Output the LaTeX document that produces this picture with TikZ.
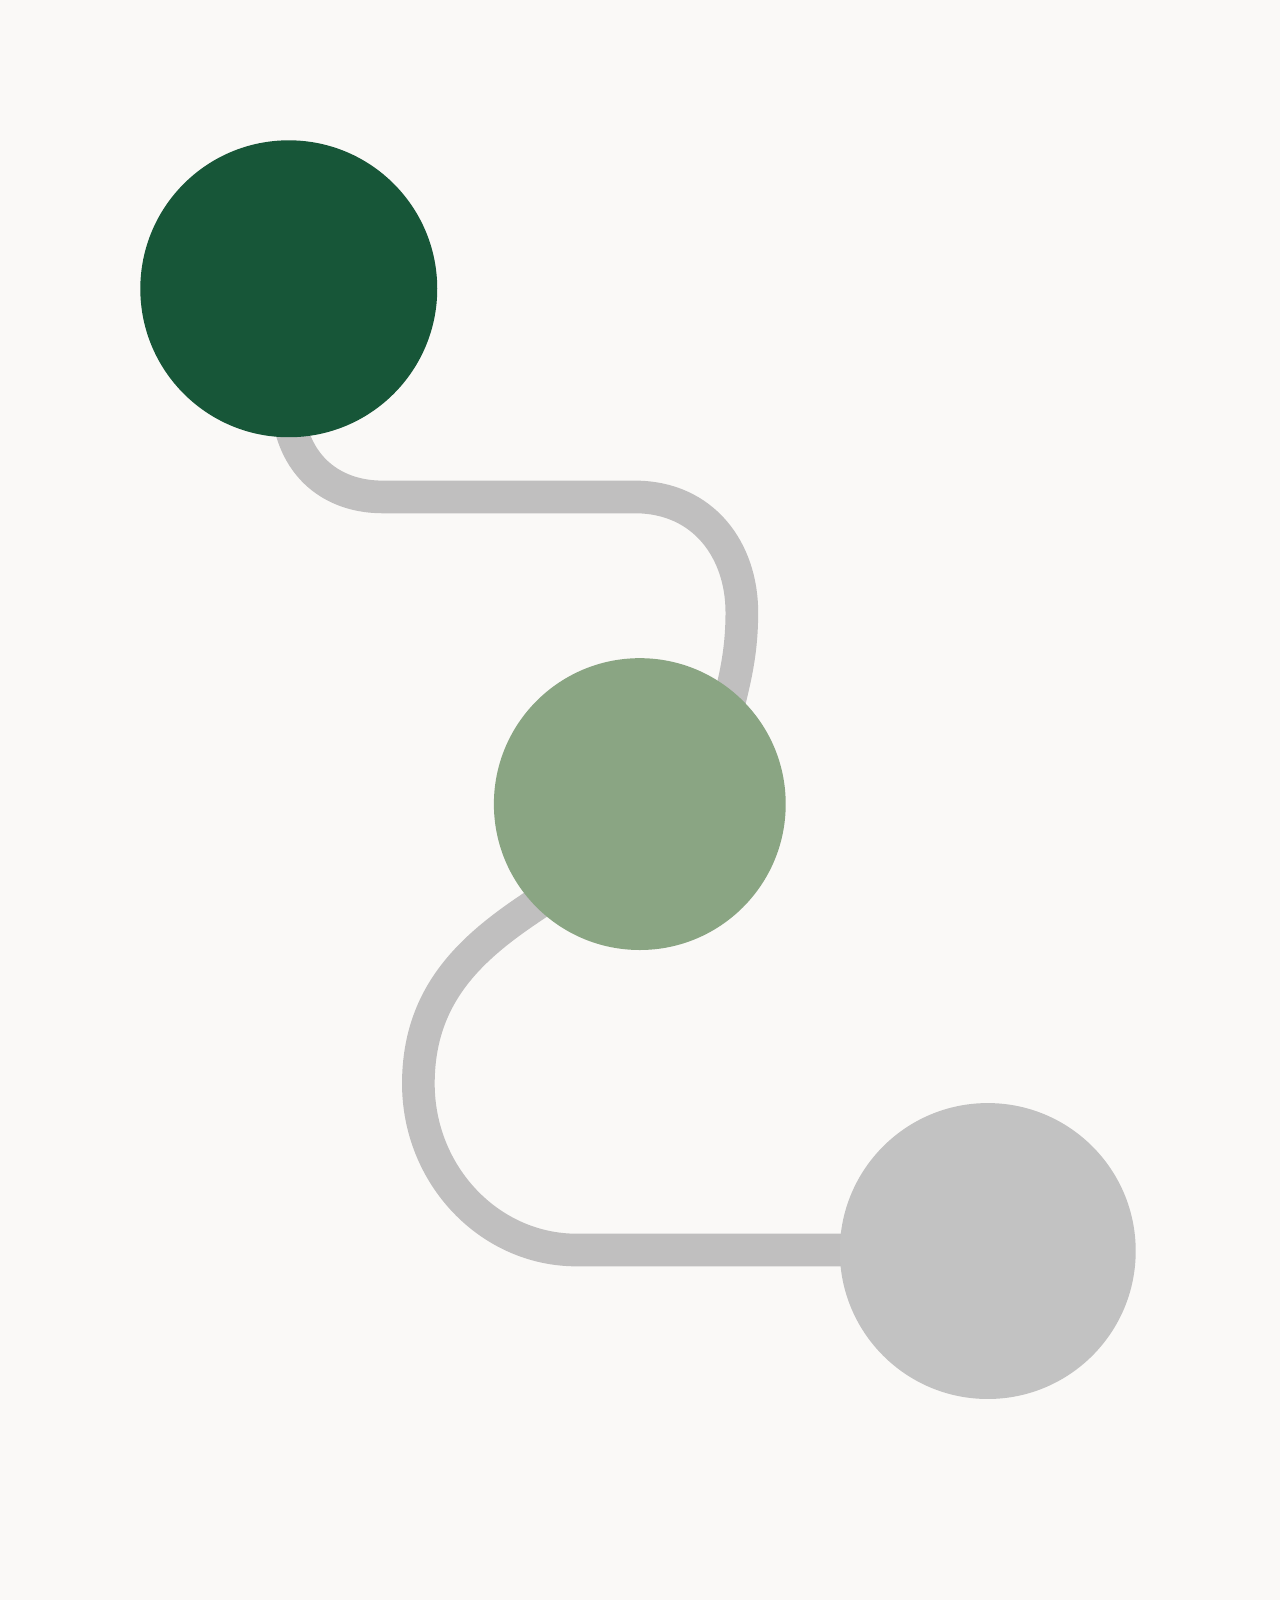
\documentclass[tikz,border=0pt]{standalone}
\usetikzlibrary{calc}
\definecolor{bgc}{HTML}{FAF9F7}
\definecolor{darkg}{HTML}{175638}
\definecolor{midg}{HTML}{8AA583}
\definecolor{greyc}{HTML}{C2C2C2}
\definecolor{linec}{HTML}{C0BFBF}
\tikzset{
  dot/.style={circle, inner sep=0pt, minimum size=#1, draw=none},
  track/.style={draw=linec, line width=32pt, line cap=butt, line join=round}
}
\begin{document}
\begin{tikzpicture}[x=1pt,y=-1pt]
\fill[bgc] (0,0) rectangle (1254,1568);
\useasboundingbox (0,0) rectangle (1254,1568);
\coordinate (c1) at (283,283);
\coordinate (c2) at (627,788);
\coordinate (c3) at (968,1226);
\coordinate (s1) at (283,410);
\coordinate (e1) at (712,700);
\coordinate (s2) at (535,880);
\coordinate (e2) at (850,1225);
\draw[track] (s1) .. controls (292,462) and (330,487) .. (375,487) -- (622,487)
  .. controls (690,487) and (727,540) .. (727,600)
  .. controls (727,645) and (718,672) .. (e1);
\draw[track] (s2) .. controls (470,922) and (410,968) .. (410,1062)
  .. controls (410,1152) and (480,1225) .. (565,1225) -- (e2);
\node[dot=291pt, fill=darkg] (a) at (c1) {};
\node[dot=286pt, fill=midg] (b) at (c2) {};
\node[dot=290pt, fill=greyc] (c) at (c3) {};
\end{tikzpicture}
\end{document}
